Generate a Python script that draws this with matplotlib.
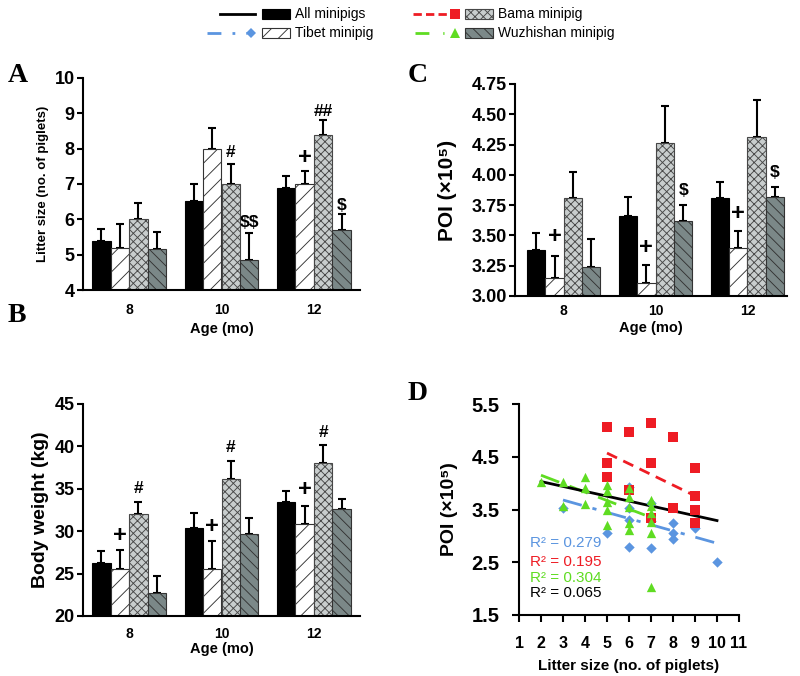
import numpy as np
import matplotlib
matplotlib.use('Agg')
import matplotlib.pyplot as plt
from matplotlib.lines import Line2D
from matplotlib.patches import Rectangle

plt.rcParams['font.family'] = ['Liberation Sans', 'DejaVu Sans']
plt.rcParams['hatch.linewidth'] = 0.65
plt.rcParams['text.parse_math'] = False

# ---- data ----
ages = ['8', '10', '12']
groups = ['All minipigs', 'Tibet minipig', 'Bama minipig', 'Wuzhishan minipig']

# rows = groups (All, Tibet, Bama, Wuzhishan), cols = age 8, 10, 12
litter_mean = [[5.40, 6.52, 6.88], [5.20, 8.00, 7.00], [6.00, 7.00, 8.40], [5.15, 4.85, 5.70]]
litter_top = [[5.72, 7.00, 7.23], [5.87, 8.58, 7.37], [6.45, 7.58, 8.80], [5.65, 5.60, 6.15]]

weight_mean = [[26.3, 30.4, 33.5], [25.5, 25.6, 30.8], [32.0, 36.1, 38.0], [22.7, 29.7, 32.6]]
weight_top = [[27.7, 32.1, 34.7], [27.8, 28.9, 33.0], [33.4, 38.3, 40.2], [24.7, 31.6, 33.8]]

poi_mean = [[3.38, 3.66, 3.81], [3.15, 3.11, 3.40], [3.81, 4.26, 4.31], [3.24, 3.62, 3.82]]
poi_top = [[3.52, 3.82, 3.94], [3.33, 3.26, 3.54], [4.02, 4.57, 4.62], [3.47, 3.75, 3.90]]

# significance marks: (age index, group index, y, symbol)
litter_notes = [(1, 2, 7.88, '#'), (1, 3, 5.90, '$$'), (2, 1, 7.74, '+'), (2, 2, 9.04, '##'), (2, 3, 6.40, '$')]
weight_notes = [(0, 1, 29.5, '+'), (0, 2, 35.0, '#'), (1, 1, 30.5, '+'), (1, 2, 39.9, '#'),
                (2, 1, 34.9, '+'), (2, 2, 41.6, '#')]
poi_notes = [(0, 1, 3.49, '+'), (1, 1, 3.40, '+'), (1, 3, 3.87, '$'), (2, 1, 3.68, '+'), (2, 3, 4.02, '$')]

# scatter D: litter size vs POI
tibet_x = [3, 5, 6, 6, 6, 6, 7, 7, 7, 8, 8, 8, 9, 10]
tibet_y = [3.53, 3.05, 3.93, 3.52, 3.30, 2.79, 3.62, 3.28, 2.77, 3.24, 3.05, 2.95, 3.14, 2.51]
bama_x = [5, 5, 5, 6, 6, 7, 7, 7, 8, 8, 9, 9, 9, 9]
bama_y = [5.07, 4.39, 4.12, 4.96, 3.87, 5.14, 4.39, 3.34, 4.88, 3.52, 4.28, 3.76, 3.49, 3.24]
wuzhi_x = [2, 3, 3, 4, 4, 4, 5, 5, 5, 5, 5, 6, 6, 6, 6, 6, 7, 7, 7, 7, 7, 7]
wuzhi_y = [4.03, 4.02, 3.57, 4.12, 3.90, 3.60, 3.97, 3.86, 3.65, 3.49, 3.21, 3.90, 3.74, 3.55,
           3.24, 3.11, 3.68, 3.57, 3.43, 3.27, 3.05, 2.04]

# trend line end points
tibet_fit_x, tibet_fit_y = [3, 10], [3.68, 2.86]
bama_fit_x, bama_fit_y = [5, 9], [4.57, 3.76]
wuzhi_fit_x, wuzhi_fit_y = [2, 7], [4.15, 3.35]
all_fit_x, all_fit_y = [2, 10], [4.03, 3.29]
r2_labels = ['R² = 0.279', 'R² = 0.195', 'R² = 0.304', 'R² = 0.065']

# ---- styles ----
bar_styles = [
    dict(facecolor='black', edgecolor='black'),
    dict(facecolor='white', edgecolor='#333333', hatch='//'),
    dict(facecolor='#c8cdcd', edgecolor='#474747', hatch='xxxx'),
    dict(facecolor='#7b8888', edgecolor='#333333', hatch='\\\\\\'),
]
c_blue = '#5b95e0'
c_red = '#ee1c24'
c_green = '#5fdc22'

W, H = 800, 676
fig = plt.figure(figsize=(8, 6.76), dpi=100)


def fx(px):
    return px / W


def fy(py):
    return 1 - py / H


def add_axes(l, r, t, b):
    return fig.add_axes([fx(l), fy(b), fx(r) - fx(l), fy(t) - fy(b)])


def style_axes(ax):
    for s in ['top', 'right']:
        ax.spines[s].set_visible(False)
    for s in ['left', 'bottom']:
        ax.spines[s].set_linewidth(1.5)


def bar_panel(ax, means, tops, notes, ylim, yticks, fmt, ylabel, ylsize, xlpad, xlabelpad, ylabelpad=4):
    x = np.arange(len(ages))
    w = 0.2
    for i in range(4):
        xs = x + (i - 1.5) * w
        m = np.array(means[i])
        t = np.array(tops[i])
        ax.errorbar(xs, m, yerr=[np.zeros_like(m), t - m], fmt='none', ecolor='black',
                    elinewidth=1.5, capsize=3, capthick=1.5, zorder=1)
        ax.bar(xs, m, width=w, bottom=0, linewidth=0.8, zorder=2, **bar_styles[i])
    for ai, gi, yv, sym in notes:
        fs = 17 if sym == '+' else 12.5
        ax.text(x[ai] + (gi - 1.5) * w, yv, sym, ha='center', va='center',
                fontsize=fs, fontweight='bold')
    ax.set_xlim(-0.5, 2.5)
    ax.set_ylim(*ylim)
    ax.set_yticks(yticks)
    ax.set_yticklabels([fmt % v for v in yticks], fontsize=13, fontweight='bold')
    ax.set_xticks(x)
    ax.set_xticklabels(ages, fontsize=10, fontweight='bold')
    ax.tick_params(axis='x', length=0, pad=xlpad)
    ax.tick_params(axis='y', length=4, width=1.5, pad=2)
    ax.set_xlabel('Age (mo)', fontsize=10.5, fontweight='bold', labelpad=xlabelpad)
    ax.set_ylabel(ylabel, fontsize=ylsize, fontweight='bold', labelpad=ylabelpad)
    style_axes(ax)


# A: litter size
axA = add_axes(83, 360, 78, 290)
bar_panel(axA, litter_mean, litter_top, litter_notes, (4, 10), [4, 5, 6, 7, 8, 9, 10], '%d',
          'Litter size (no. of piglets)', 9.5, 9, 4)

# B: body weight
axB = add_axes(83, 360, 404, 616)
bar_panel(axB, weight_mean, weight_top, weight_notes, (20, 45), [20, 25, 30, 35, 40, 45], '%d',
          'Body weight (kg)', 14, 8, 1)

# C: POI
axC = add_axes(515, 787, 84, 296)
bar_panel(axC, poi_mean, poi_top, poi_notes, (3.0, 4.75),
          [3.0, 3.25, 3.5, 3.75, 4.0, 4.25, 4.5, 4.75], '%.2f',
          'POI (×10⁵)', 15, 6, 2, ylabelpad=10)
axC.set_xlim(-0.53, 2.43)

# D: scatter
axD = add_axes(519, 739, 404, 615)
axD.plot(tibet_fit_x, tibet_fit_y, color=c_blue, lw=2, ls=(0, (7, 4, 1.5, 4)), zorder=2)
axD.plot(bama_fit_x, bama_fit_y, color=c_red, lw=2, ls=(0, (4, 2.5)), zorder=2)
axD.plot(wuzhi_fit_x, wuzhi_fit_y, color=c_green, lw=2, ls=(0, (7, 4)), zorder=2)
axD.plot(all_fit_x, all_fit_y, color='black', lw=2, zorder=2)
axD.scatter(tibet_x, tibet_y, marker='D', s=28, color=c_blue, linewidths=0, zorder=3)
axD.scatter(bama_x, bama_y, marker='s', s=50, color=c_red, linewidths=0, zorder=3)
axD.scatter(wuzhi_x, wuzhi_y, marker='^', s=45, color=c_green, linewidths=0, zorder=4)
for lab, col, yv in zip(r2_labels, [c_blue, c_red, c_green, 'black'], [2.86, 2.50, 2.20, 1.92]):
    axD.text(1.5, yv, lab, color=col, fontsize=11, ha='left', va='center')
axD.set_xlim(1, 11)
axD.set_ylim(1.5, 5.5)
axD.set_xticks(range(1, 12))
axD.set_xticklabels([str(v) for v in range(1, 12)], fontsize=11.5, fontweight='bold')
dy = [1.5, 2.5, 3.5, 4.5, 5.5]
axD.set_yticks(dy)
axD.set_yticklabels(['%.1f' % v for v in dy], fontsize=14.5, fontweight='bold')
axD.tick_params(axis='y', length=5, width=1.5, pad=9)
axD.tick_params(axis='x', length=5, width=1.5, pad=10)
axD.set_xlabel('Litter size (no. of piglets)', fontsize=11, fontweight='bold', labelpad=6)
axD.set_ylabel('POI (×10⁵)', fontsize=14, fontweight='bold', labelpad=10)
style_axes(axD)

# panel letters
for lab, px, py in [('A', 8, 82), ('B', 8, 322), ('C', 408, 82), ('D', 408, 400)]:
    fig.text(fx(px), fy(py), lab, fontsize=20, fontweight='bold',
             family=['Liberation Serif', 'DejaVu Serif'], ha='left', va='baseline')

# legend drawn at top of the figure
leg_rows = [
    # line x0, x1, line style, colour, marker, marker x, patch x, text, row y
    (220, 255, '-', 'black', None, None, 262, groups[0], 14),
    (413, 447, (0, (3, 1.5)), c_red, 's', 455, 465, groups[2], 14),
    (207, 247, (0, (5, 4, 1, 4)), c_blue, 'D', 251, 262, groups[1], 33),
    (415, 444, (0, (5, 5)), c_green, '^', 455, 465, groups[3], 33),
]
style_idx = [0, 2, 1, 3]
for (x0, x1, ls, col, mk, mx, rx, txt, ry), si in zip(leg_rows, style_idx):
    fig.add_artist(Line2D([fx(x0), fx(x1)], [fy(ry), fy(ry)], color=col, lw=2, ls=ls))
    if mk is not None:
        fig.add_artist(Line2D([fx(mx)], [fy(ry)], marker=mk, color=col, ms=7 if mk != 'D' else 5,
                              markeredgewidth=0, ls='none'))
    fig.add_artist(Rectangle((fx(rx), fy(ry + 5)), fx(28), 10 / H, linewidth=0.8,
                             **bar_styles[si]))
    fig.text(fx(rx + 33), fy(ry), txt, fontsize=10, ha='left', va='center')

fig.savefig('out.png', dpi=100)
